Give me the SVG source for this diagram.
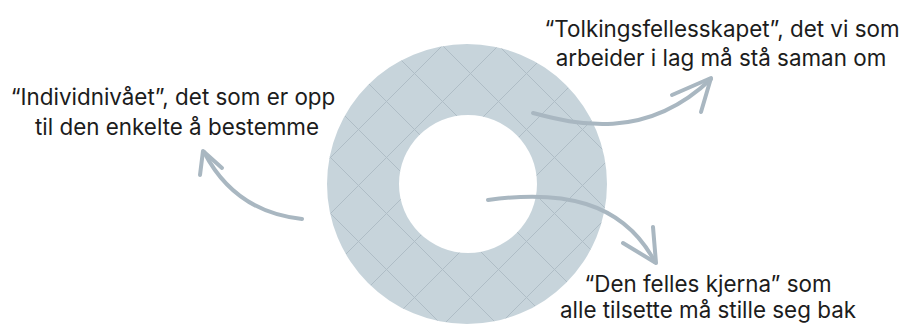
<svg xmlns="http://www.w3.org/2000/svg" width="906" height="324" viewBox="0 0 906 324">
  <style>
    .lbl { font-family: Inter, "Noto Sans", "DejaVu Sans", sans-serif; font-size: 22.4px; fill: #1c1c1c; text-anchor: middle; }
    .arrow { fill: none; stroke: #a9b7c1; stroke-width: 4; stroke-linecap: round; stroke-linejoin: round; }
    .grid { stroke: #afbdc6; stroke-width: 1; }
  </style>
  <defs>
    <pattern id="hatch" patternUnits="userSpaceOnUse" x="0" y="0" width="56" height="56">
      <rect width="56" height="56" fill="#c7d4db"/>
      <line class="grid" x1="-1" y1="-6" x2="62" y2="57"/>
      <line class="grid" x1="-10" y1="41" x2="20" y2="71"/>
      <line class="grid" x1="-5" y1="45" x2="45" y2="-5"/>
      <line class="grid" x1="35" y1="61" x2="61" y2="35"/>
    </pattern>
  </defs>
  <rect width="906" height="324" fill="#ffffff"/>

  <g id="ring">
    <path fill="url(#hatch)" fill-rule="evenodd" d="M327,184 a140,140 0 1,0 280,0 a140,140 0 1,0 -280,0 Z M399,184 a69,69 0 1,0 138,0 a69,69 0 1,0 -138,0 Z"/>
  </g>

  <g id="connectors">
    <g id="arrow-left">
      <path class="arrow" d="M302,219 Q235,212 204,152"/>
      <path class="arrow" d="M200,175 L203,151 L222,168"/>
    </g>
    <g id="arrow-top">
      <path class="arrow" d="M533,113 C575,124 645,142 711,79"/>
      <path class="arrow" d="M672,95 L711,78 L701,112"/>
    </g>
    <g id="arrow-bottom">
      <path class="arrow" d="M488,200 C560,190 622,200 655,262"/>
      <path class="arrow" d="M653,227 L656,263 L623,243"/>
    </g>
  </g>

  <g id="label-individ">
    <text class="lbl" x="173" y="105">“Individnivået”, det som er opp</text>
    <text class="lbl" x="177" y="135">til den enkelte å bestemme</text>
  </g>
  <g id="label-tolking">
    <text class="lbl" x="722" y="37">“Tolkingsfellesskapet”, det vi som</text>
    <text class="lbl" x="721" y="66">arbeider i lag må stå saman om</text>
  </g>
  <g id="label-kjerna">
    <text class="lbl" x="708" y="292">“Den felles kjerna” som</text>
    <text class="lbl" x="708" y="318">alle tilsette må stille seg bak</text>
  </g>
</svg>
